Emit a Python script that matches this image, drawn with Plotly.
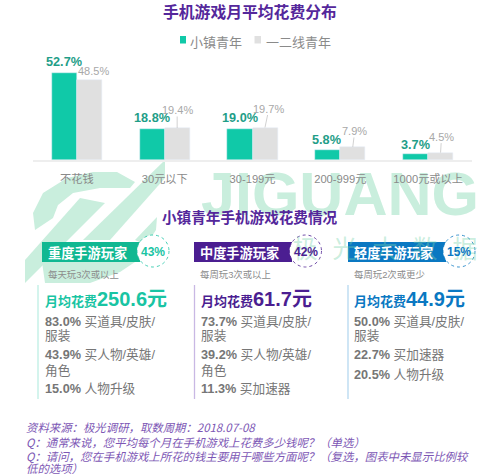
import plotly.graph_objects as go

categories = ["不花钱", "30元以下", "30-199元", "200-999元", "1000元或以上"]
town_youth = [52.7, 18.8, 19.0, 5.8, 3.7]
city_youth = [48.5, 19.4, 19.7, 7.9, 4.5]
series_names = ["小镇青年", "一二线青年"]

W, H = 500, 476
CJK = "Noto Sans CJK SC"
MIX = "Liberation Sans, Noto Sans CJK SC"
TEAL, GREY, PURPLE, BLUE = "#10c9a8", "#e0e0e0", "#4b1e91", "#0a78c2"
WM = "#c9eedd"


def px(x):
    return x / W


def py(y):
    return 1 - y / H


def poly(points, color=WM):
    path = "M" + " L".join(f"{px(x):.4f},{py(y):.4f}" for x, y in points) + " Z"
    return dict(type="path", xref="paper", yref="paper", path=path,
                fillcolor=color, line=dict(width=0), layer="below")


annotations = []
shapes = []


def text(x, y, s, size=11, color="#777777", bold=False, anchor="left", italic=False, family=MIX):
    if bold:
        s = f"<b>{s}</b>"
    if italic:
        s = f"<i>{s}</i>"
    annotations.append(dict(xref="paper", yref="paper", x=px(x), y=py(y), text=s,
                            showarrow=False, xanchor=anchor, yanchor="middle",
                            align="left", borderpad=0,
                            font=dict(family=family, size=size, color=color)))


# watermark logo
shapes += [
    poly([(35, 230), (33, 213), (43, 193), (67, 178), (93, 172), (117, 172), (135, 182),
          (130, 188), (100, 188), (73, 193), (58, 205), (53, 218)]),
    poly([(25, 283), (25, 260), (80, 198), (105, 203)]),
    poly([(83, 240), (165, 160), (165, 178), (110, 240)]),
    poly([(135, 240), (157, 217), (156, 230), (146, 245)]),
    poly([(42, 262), (135, 262), (120, 272), (90, 283), (45, 283)]),
]

fig = go.Figure()
# watermark text: a full-page text layer above the panel bands and circles, below the labels
fig.add_trace(go.Scatter(x=[340], y=[200], mode="text", text=["<b>JIGUANG</b>"], xaxis="x", yaxis="y",
                         textposition="middle center", hoverinfo="skip", showlegend=False,
                         textfont=dict(family="Liberation Sans", size=61, color=WM)))
fig.add_trace(go.Scatter(x=[305, 345, 385, 425, 465], y=[252] * 5, mode="text",
                         text=list("极光大数据"), xaxis="x", yaxis="y",
                         textposition="middle center", hoverinfo="skip", showlegend=False,
                         textfont=dict(family=CJK, size=25, color="rgba(120,212,170,0.4)")))

fig.add_trace(go.Bar(x=categories, y=town_youth, name=series_names[0], marker_color=TEAL,
                     width=0.285, offset=-0.285, xaxis="x2", yaxis="y2", showlegend=False))
fig.add_trace(go.Bar(x=categories, y=city_youth, name=series_names[1], marker_color=GREY,
                     width=0.285, offset=0, xaxis="x2", yaxis="y2", showlegend=False))

# data labels
town_shift = [(-13, 11), (-13, 11), (-13, 11), (-14, 10), (-13, 9)]
city_shift = [(4, -9), (0, -18), (4, -19), (2, -16), (1, -16)]
for i, (a, b) in enumerate(zip(town_youth, city_youth)):
    annotations.append(dict(x=i, y=a, xref="x2", yref="y2", text=f"<b>{a}%</b>", showarrow=False,
                            xanchor="center", yanchor="middle", xshift=town_shift[i][0], yshift=town_shift[i][1],
                            font=dict(family="Liberation Sans", size=12.7, color="#1f9e88")))
    label = dict(x=i + 0.142, y=b, xref="x2", yref="y2", text=f"{b}%",
                 xanchor="center", yanchor="middle", borderpad=0,
                 font=dict(family="Liberation Sans", size=11, color="#a8a8a8"))
    if i == 0:
        label.update(showarrow=False, xshift=city_shift[i][0], yshift=-city_shift[i][1])
    else:
        label.update(showarrow=True, arrowhead=0, arrowwidth=0.7, arrowcolor="#bdbdbd",
                     ax=city_shift[i][0], ay=city_shift[i][1], axref="pixel", ayref="pixel")
    annotations.append(label)

# titles
text(250, 11, "手机游戏月平均花费分布", size=15.8, color="#54279b", bold=True, anchor="center", family=CJK)
text(250, 217, "小镇青年手机游戏花费情况", size=14.6, color="#54279b", bold=True, anchor="center", family=CJK)

# legend
shapes.append(dict(type="rect", xref="paper", yref="paper", x0=px(180), x1=px(186), y0=py(43.5), y1=py(36),
                   fillcolor=TEAL, line=dict(width=0)))
shapes.append(dict(type="rect", xref="paper", yref="paper", x0=px(254.5), x1=px(261), y0=py(43.5), y1=py(36),
                   fillcolor=GREY, line=dict(width=0)))
text(189, 41, series_names[0], size=13, color="#8a8a8a", family=CJK)
text(265, 41, series_names[1], size=13, color="#8a8a8a", family=CJK)

# panels
panels = [
    dict(bx=42, bw=98, cx=153, lx=38, tx=44, band="#10b892", name="重度手游玩家", pct="43%",
         sub="每天玩3次或以上", amt="250.6元", pc="#19c4a3", line="#bdeee3",
         rows=[(322, "83.0%", "买道具/皮肤/"), (336, "", "服装"), (355, "43.9%", "买人物/英雄/"),
               (370, "", "角色"), (389, "15.0%", "人物升级")]),
    dict(bx=194, bw=98, cx=305.5, lx=194.5, tx=200, band=PURPLE, name="中度手游玩家", pct="42%",
         sub="每周玩3次或以上", amt="61.7元", pc=PURPLE, line="#c9b8e4",
         rows=[(322, "73.7%", "买道具/皮肤/"), (336, "", "服装"), (355, "39.2%", "买人物/英雄/"),
               (370, "", "角色"), (389, "11.3%", "买加速器")]),
    dict(bx=348, bw=98, cx=459, lx=348, tx=353, band=BLUE, name="轻度手游玩家", pct="15%",
         sub="每周玩2次或更少", amt="44.9元", pc=BLUE, line="#b5d8f0",
         rows=[(322, "50.0%", "买道具/皮肤/"), (336, "", "服装"), (355, "22.7%", "买加速器"),
               (375, "20.5%", "人物升级")]),
]
for p in panels:
    bx, cx, tx = p["bx"], p["cx"], p["tx"]
    shapes.append(dict(type="rect", xref="paper", yref="paper", x0=px(bx), x1=px(bx + p["bw"]),
                       y0=py(262), y1=py(242), fillcolor=p["band"], line=dict(width=0), layer="below"))
    shapes.append(dict(type="circle", xref="paper", yref="paper", x0=px(cx - 16), x1=px(cx + 16),
                       y0=py(267), y1=py(235), fillcolor="white", layer="below",
                       line=dict(color=p["pc"], width=0.8, dash="dot")))
    text(bx + 5, 252, p["name"], size=13.2, color="white", bold=True, family=CJK)
    text(cx, 251.5, p["pct"], size=12, color=p["pc"], bold=True, anchor="center")
    text(bx + 5, 274, p["sub"], size=9.4, color="#8c8c8c")
    shapes.append(dict(type="line", xref="paper", yref="paper", x0=px(p["lx"]), x1=px(p["lx"]),
                       y0=py(285), y1=py(399), line=dict(color=p["line"], width=1.3)))
    text(tx, 300, "月均花费", size=13, color=p["pc"], bold=True, family=CJK)
    text(tx + 52, 299, p["amt"], size=20, color=p["pc"], bold=True)
    for y, val, label in p["rows"]:
        s = f"<b>{val}</b> {label}" if val else label
        text(tx, y, s, size=12.7, color="#767676")

# footer
fc = "#7d57b5"
for y, s in [(427, "资料来源：极光调研，取数周期：2018.07-08"),
             (442, "Q：通常来说，您平均每个月在手机游戏上花费多少钱呢？（单选）"),
             (456, "Q：请问，您在手机游戏上所花的钱主要用于哪些方面呢？（复选，图表中未显示比例较"),
             (467.5, "低的选项）")]:
    text(25, y, s, size=11.4, color=fc, italic=True, family=CJK)

fig.update_layout(
    width=W, height=H, autosize=False, margin=dict(l=0, r=0, t=0, b=0),
    paper_bgcolor="white", plot_bgcolor="rgba(0,0,0,0)",
    barmode="overlay", bargap=0, showlegend=False,
    xaxis=dict(domain=[0, 1], range=[0, W], visible=False, fixedrange=True),
    yaxis=dict(domain=[0, 1], range=[H, 0], visible=False, fixedrange=True),
    xaxis2=dict(domain=[px(33), px(472)], anchor="y2", showgrid=False, showline=True, linecolor="#eeeeee",
                linewidth=1.5, ticks="", tickfont=dict(family=MIX, size=11.2, color="#8a8a8a"),
                ticklabelstandoff=8, fixedrange=True),
    yaxis2=dict(domain=[py(160), py(61)], anchor="x2", range=[0, 60], visible=False, fixedrange=True),
    shapes=shapes, annotations=annotations,
)
fig.write_html("out.html", config=dict(displayModeBar=False),
               post_script="document.body.style.margin='0';document.documentElement.style.overflow='hidden';")
